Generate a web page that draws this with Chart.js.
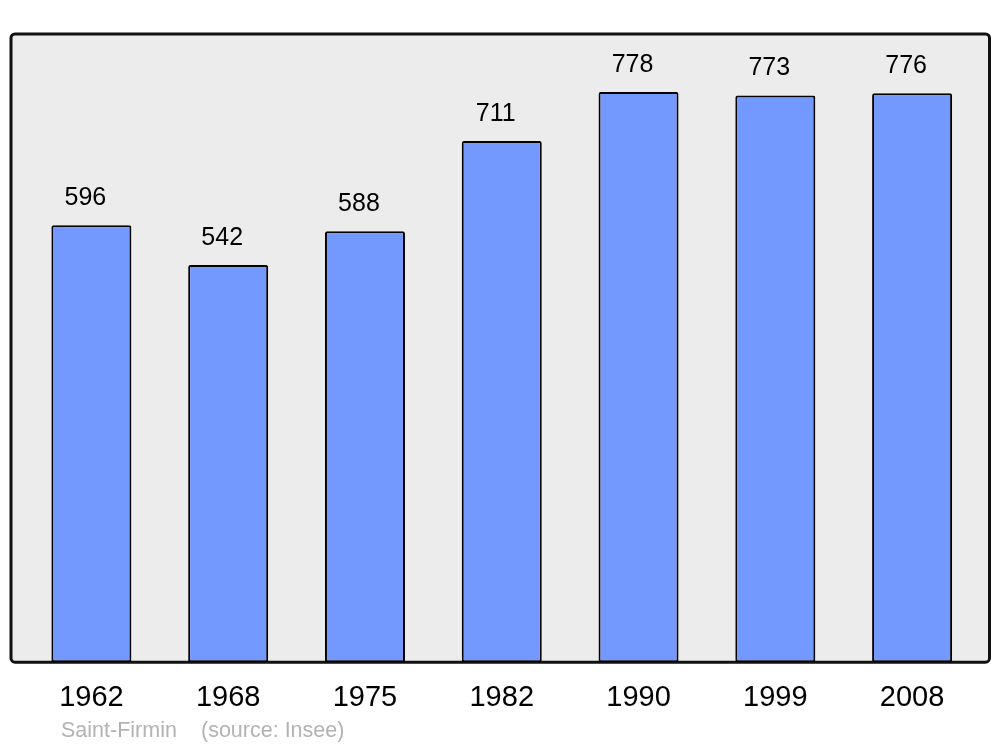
<!DOCTYPE html>
<html><head><meta charset="utf-8">
<script src="https://cdn.jsdelivr.net/npm/chart.js@4.4.1/dist/chart.umd.min.js"></script>
<style>html,body{margin:0;padding:0;background:#fff}#wrap{width:1000px;height:747px}</style>
</head><body><div id="wrap"><canvas id="c" width="1000" height="747"></canvas></div>
<script>
const years = ['1962','1968','1975','1982','1990','1999','2008'];
const population = [596, 542, 588, 711, 778, 773, 776];
const footerPlace = 'Saint-Firmin';
const footerSource = '(source: Insee)';

const framePlugin = {
  id: 'frame',
  beforeDatasetsDraw(chart) {
    const {ctx, chartArea: a} = chart;
    const l = a.left - 12, r = a.right + 9, t = a.top, b = a.bottom;
    ctx.save();
    ctx.beginPath();
    ctx.roundRect(l, t, r - l, b - t, 4);
    ctx.fillStyle = '#ececec';
    ctx.fill();
    ctx.lineWidth = 3;
    ctx.strokeStyle = '#111';
    ctx.stroke();
    ctx.restore();
  },
  afterDatasetsDraw(chart) {
    const {ctx} = chart;
    const meta = chart.getDatasetMeta(0);
    ctx.save();
    ctx.fillStyle = '#000';
    ctx.font = '25px "Liberation Sans", Arial, sans-serif';
    ctx.textAlign = 'center';
    ctx.textBaseline = 'middle';
    meta.data.forEach((bar, i) => {
      ctx.fillText(String(population[i]), bar.x - 6, bar.y - 27);
    });
    ctx.fillStyle = '#b3b3b3';
    ctx.font = '21.5px "Liberation Sans", Arial, sans-serif';
    ctx.textAlign = 'left';
    ctx.fillText(footerPlace, 61, 731);
    ctx.fillText(footerSource, 201, 731);
    ctx.restore();
  }
};

new Chart(document.getElementById('c'), {
  type: 'bar',
  data: {
    labels: years,
    datasets: [{
      data: population,
      backgroundColor: '#7399ff',
      borderColor: '#000',
      borderWidth: 2,
      borderRadius: 2,
      borderSkipped: false,
      categoryPercentage: 1,
      barPercentage: 0.585
    }]
  },
  options: {
    responsive: false,
    animation: false,
    layout: { padding: { left: 23, right: 19.5, top: 34, bottom: 14 } },
    plugins: { legend: { display: false }, tooltip: { enabled: false } },
    scales: {
      y: { display: false, min: 0, max: 857 },
      x: {
        grid: { display: false, drawTicks: false },
        border: { display: false },
        ticks: { color: '#000', padding: 18, font: { size: 29, family: '"Liberation Sans", Arial, sans-serif' } }
      }
    }
  },
  plugins: [framePlugin]
});
</script></body></html>
